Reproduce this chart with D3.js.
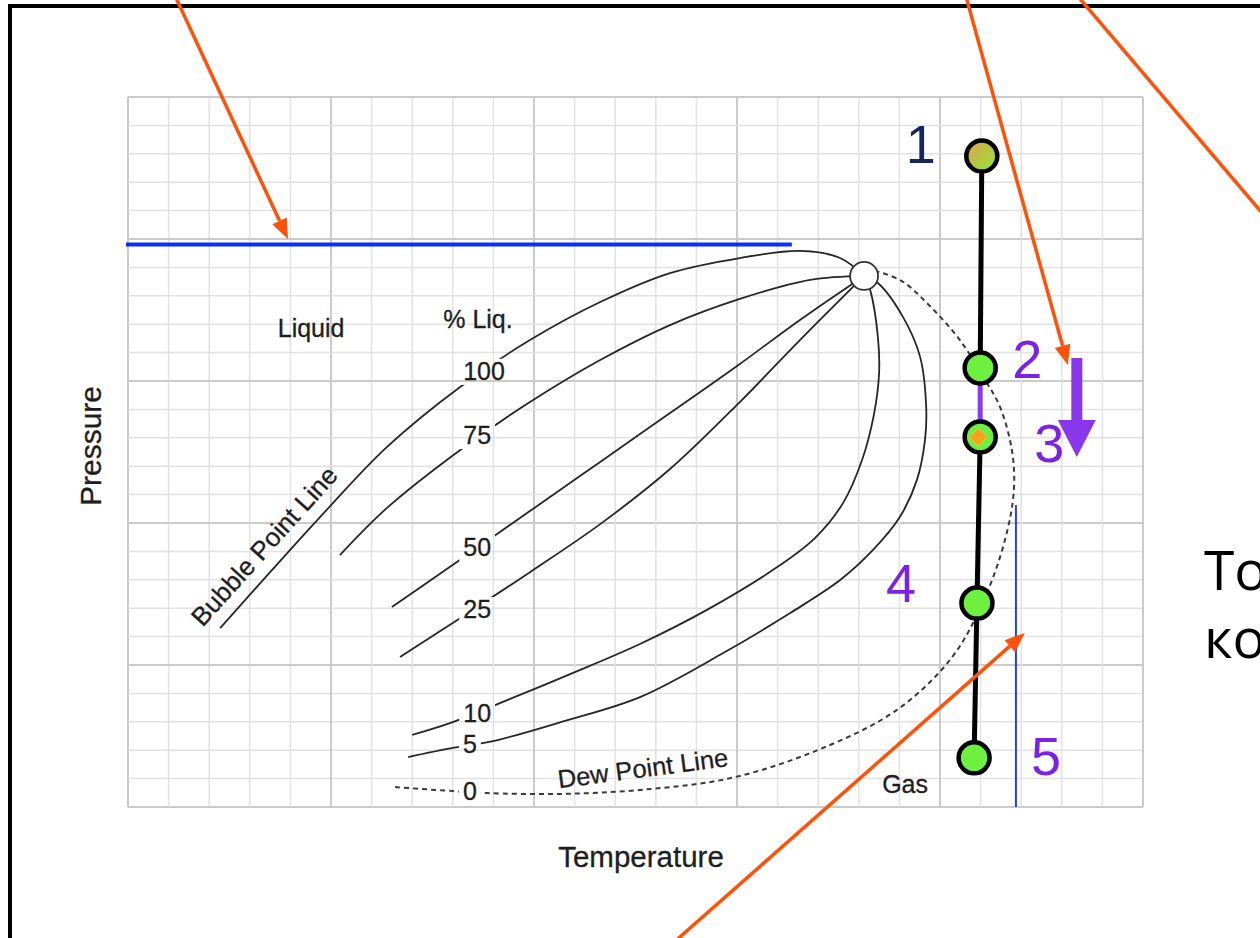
<!doctype html>
<html lang="ru">
<head>
<meta charset="UTF-8">
<title>Phase envelope</title>
<script src="https://d3js.org/d3.v7.min.js"></script>
<style>
body { margin: 0; background-color: #ffffff; overflow: hidden; }
svg { display: block; }
.lbl { font-family: "Liberation Sans", Arial, sans-serif; fill: #1e1e1e; stroke: #1e1e1e; stroke-width: 0.3; }
</style>
</head>
<body>
<div id="plot"></div>
<script>

var width = 1260;
var height = 938;

// grid: 25 x 25 cells, temperature and pressure in cell units
var gridCells = 25;

// % liquid lines, [temperature, pressure] from left end to the critical point
var qualityLabels = ["100", "75", "50", "25", "10", "5"];
var curve100 = [[2.27, 6.30], [3.50, 8.27], [4.73, 10.21], [6.38, 12.68], [8.18, 14.79], [9.90, 16.44],
	[11.63, 17.78], [13.35, 18.80], [15.07, 19.33], [16.55, 19.58], [17.54, 19.33], [18.13, 18.70]];
var curve75 = [[5.22, 8.87], [6.38, 10.53], [8.25, 12.64], [9.90, 14.26], [11.63, 15.74], [13.35, 16.97],
	[15.07, 17.89], [16.80, 18.56], [18.13, 18.70]];
var curve50 = [[6.50, 7.04], [8.10, 8.63], [9.90, 10.42], [11.63, 12.15], [13.35, 13.87], [15.07, 15.60],
	[16.55, 17.15], [18.13, 18.70]];
var curve25 = [[6.70, 5.28], [8.18, 6.65], [9.90, 8.27], [11.63, 9.96], [13.35, 11.90], [15.07, 14.26],
	[16.55, 16.44], [18.13, 18.70]];
var curve10 = [[7.00, 2.54], [8.00, 2.99], [9.16, 3.66], [10.89, 4.68], [12.61, 5.74], [14.26, 6.94],
	[15.89, 8.35], [16.92, 9.47], [17.61, 10.70], [18.08, 12.22], [18.37, 13.80], [18.50, 15.28],
	[18.47, 16.55], [18.28, 18.20], [18.13, 18.70]];
var curve5 = [[6.90, 1.76], [8.00, 2.08], [8.99, 2.32], [10.76, 3.03], [12.61, 3.87], [14.66, 5.42],
	[16.31, 6.83], [17.54, 7.99], [18.35, 9.05], [19.01, 10.21], [19.43, 11.51], [19.63, 12.92],
	[19.66, 14.08], [19.51, 15.85], [19.09, 17.25], [18.47, 18.45], [18.13, 18.70]];
var qualityCurves = [curve100, curve75, curve50, curve25, curve10, curve5];

// 0 % liquid = dew point line
var dewLabel = "0";
var dewCurve = [[6.58, 0.70], [8.00, 0.56], [8.84, 0.49], [10.64, 0.46], [12.61, 0.60], [14.85, 1.02],
	[17.00, 2.01], [18.94, 3.42], [20.30, 5.28], [21.08, 7.29], [21.60, 9.40], [21.82, 11.16],
	[21.77, 12.57], [21.48, 14.08], [21.11, 15.04], [20.49, 16.44], [19.75, 17.64], [19.06, 18.52],
	[18.42, 18.87]];

var criticalPoint = [18.13, 18.70];

// cricondenbar line and cricondentherm line
var cricondenbar = [[-0.05, 19.81], [16.35, 19.81]];
var cricondentherm = [[21.87, 0], [21.87, 10.63]];

// isothermal process 1 -> 5
var processLabels = ["1", "2", "3", "4", "5"];
var processTemp = [21.03, 20.99, 20.99, 20.91, 20.84];
var processPress = [22.92, 15.46, 13.03, 7.18, 1.73];

// annotation arrows [t1, p1, t2, p2]
var arrowsWithHead = [[1.15, 28.59, 3.94, 20.0], [20.63, 28.59, 23.15, 15.56], [13.37, -4.86, 22.09, 6.13]];
var arrowsNoHead = [[23.37, 28.59, 27.93, 20.92]];

var regionLabels = ["Liquid", "% Liq.", "Gas"];
var sideText = ["То", "кол"];

var svg = d3.select("#plot").append("svg")
	.attr("width", width)
	.attr("height", height);

var xScale = d3.scaleLinear().domain([0, gridCells]).range([128, 1143]);
var yScale = d3.scaleLinear().domain([0, gridCells]).range([807, 97]);

var defs = svg.append("defs");
var grad = defs.append("linearGradient").attr("id", "p1fill")
	.attr("x1", "0%").attr("y1", "0%").attr("x2", "100%").attr("y2", "100%");
grad.append("stop").attr("offset", "0%").attr("stop-color", "#e0a04c");
grad.append("stop").attr("offset", "100%").attr("stop-color", "#8ee83a");

var mask = defs.append("mask").attr("id", "gaps")
	.attr("maskUnits", "userSpaceOnUse")
	.attr("x", 0).attr("y", 0).attr("width", width).attr("height", height);
mask.append("rect").attr("width", width).attr("height", height).attr("fill", "white");

// frame
svg.append("rect")
	.attr("x", 10).attr("y", 6)
	.attr("width", width + 40).attr("height", height + 40)
	.attr("fill", "none").attr("stroke", "#000").attr("stroke-width", 4);

// grid
var ticks = d3.range(0, gridCells + 1);
var grid = svg.append("g");
ticks.forEach(function (k) {
	var major = k % 5 == 0;
	grid.append("line")
		.attr("x1", xScale(k)).attr("x2", xScale(k))
		.attr("y1", yScale(0)).attr("y2", yScale(gridCells))
		.attr("stroke", major ? "#cbcbcb" : "#e2e2e2")
		.attr("stroke-width", major ? 2 : 1.5);
	grid.append("line")
		.attr("x1", xScale(0)).attr("x2", xScale(gridCells))
		.attr("y1", yScale(k)).attr("y2", yScale(k))
		.attr("stroke", major ? "#cbcbcb" : "#e2e2e2")
		.attr("stroke-width", major ? 2 : 1.5);
});

var straight = d3.line()
	.x(function (d) { return xScale(d[0]); })
	.y(function (d) { return yScale(d[1]); });

svg.append("path").attr("d", straight(cricondenbar))
	.attr("fill", "none").attr("stroke", "#0a2eff").attr("stroke-width", 4);
svg.append("path").attr("d", straight(cricondentherm))
	.attr("fill", "none").attr("stroke", "#1a40ff").attr("stroke-width", 2);

// phase envelope
var smooth = d3.line()
	.x(function (d) { return xScale(d[0]); })
	.y(function (d) { return yScale(d[1]); })
	.curve(d3.curveCatmullRom.alpha(0.5));

var curves = svg.append("g").attr("mask", "url(#gaps)");
qualityCurves.forEach(function (c) {
	curves.append("path").attr("d", smooth(c))
		.attr("fill", "none").attr("stroke", "#262626").attr("stroke-width", 1.8);
});
curves.append("path").attr("d", smooth(dewCurve))
	.attr("fill", "none").attr("stroke", "#3a3a3a").attr("stroke-width", 2)
	.attr("stroke-dasharray", "5,4");

svg.append("circle")
	.attr("cx", xScale(criticalPoint[0])).attr("cy", yScale(criticalPoint[1]))
	.attr("r", 14).attr("fill", "#fff").attr("stroke", "#333").attr("stroke-width", 1.8);

// % liquid labels, they cut the lines
var qualityPos = [[8.77, 15.04], [8.60, 12.78], [8.60, 8.84], [8.60, 6.65], [8.60, 2.99], [8.42, 1.90], [8.42, 0.25]];
qualityLabels.concat([dewLabel]).forEach(function (s, i) {
	var t = svg.append("text").attr("class", "lbl")
		.attr("x", xScale(qualityPos[i][0])).attr("y", yScale(qualityPos[i][1]))
		.attr("text-anchor", "middle")
		.style("font-size", "25px")
		.text(s);
	var b = t.node().getBBox();
	mask.append("rect")
		.attr("x", b.x - 4).attr("y", b.y + 2)
		.attr("width", b.width + 8).attr("height", b.height - 2)
		.attr("fill", "black");
});

var regionPos = [[4.51, 16.55], [8.62, 16.87], [19.14, 0.49]];
regionLabels.forEach(function (s, i) {
	svg.append("text").attr("class", "lbl")
		.attr("x", xScale(regionPos[i][0])).attr("y", yScale(regionPos[i][1]))
		.attr("text-anchor", "middle")
		.style("font-size", "25px")
		.text(s);
});

svg.append("text").attr("class", "lbl")
	.attr("transform", "translate(" + xScale(3.52) + "," + yScale(8.98) + ") rotate(-48)")
	.attr("text-anchor", "middle")
	.style("font-size", "26px")
	.text("Bubble Point Line");

svg.append("text").attr("class", "lbl")
	.attr("transform", "translate(" + xScale(12.71) + "," + yScale(1.05) + ") rotate(-7.5)")
	.attr("text-anchor", "middle")
	.style("font-size", "25.5px")
	.text("Dew Point Line");

svg.append("text").attr("class", "lbl")
	.attr("x", 641).attr("y", 867)
	.attr("text-anchor", "middle")
	.style("font-size", "29.5px")
	.text("Temperature");

svg.append("text").attr("class", "lbl")
	.attr("transform", "translate(101,446) rotate(-90)")
	.attr("text-anchor", "middle")
	.style("font-size", "30px")
	.text("Pressure");

// process line
var segColors = ["#000", "#8a3cec", "#000", "#000"];
processTemp.forEach(function (t, i) {
	if (i == processTemp.length - 1) return;
	svg.append("line")
		.attr("x1", xScale(t)).attr("y1", yScale(processPress[i]))
		.attr("x2", xScale(processTemp[i + 1])).attr("y2", yScale(processPress[i + 1]))
		.attr("stroke", segColors[i]).attr("stroke-width", 5);
});

var pointFill = ["url(#p1fill)", "#6ef03e", "#6ef03e", "#6ef03e", "#6ef03e"];
processTemp.forEach(function (t, i) {
	svg.append("circle")
		.attr("cx", xScale(t)).attr("cy", yScale(processPress[i]))
		.attr("r", 15.5)
		.attr("fill", pointFill[i]).attr("stroke", "#000").attr("stroke-width", 4.5);
});

// orange diamond inside point 3
var cx3 = xScale(processTemp[2]) - 2, cy3 = yScale(processPress[2]);
svg.append("path")
	.attr("d", "M" + cx3 + "," + (cy3 - 9) + "L" + (cx3 + 9) + "," + cy3 + "L" + cx3 + "," + (cy3 + 9) + "L" + (cx3 - 9) + "," + cy3 + "Z")
	.attr("fill", "#f7a21b").attr("stroke", "#f8c060").attr("stroke-width", 1);

var labelOffsets = [[-61, 7], [47, 10], [69, 25], [-76, -1], [72, 17]];
var labelColors = ["#16265f", "#7b22e6", "#7b22e6", "#7b22e6", "#7b22e6"];
processLabels.forEach(function (s, i) {
	svg.append("text")
		.attr("x", xScale(processTemp[i]) + labelOffsets[i][0])
		.attr("y", yScale(processPress[i]) + labelOffsets[i][1])
		.attr("text-anchor", "middle")
		.style("font-family", "'Liberation Sans', Arial, sans-serif")
		.style("font-size", "54px")
		.style("fill", labelColors[i])
		.text(s);
});

// purple arrow: pressure goes down
var ax = xScale(23.37), ay1 = yScale(15.81), ay2 = yScale(12.32);
svg.append("line")
	.attr("x1", ax).attr("x2", ax).attr("y1", ay1).attr("y2", ay2 - 35)
	.attr("stroke", "#8a36ea").attr("stroke-width", 11);
svg.append("path")
	.attr("d", "M" + (ax - 19) + "," + (ay2 - 37) + "L" + (ax + 19) + "," + (ay2 - 37) + "L" + ax + "," + ay2 + "Z")
	.attr("fill", "#8a36ea");

// orange annotation arrows
function arrow(a, head) {
	var x1 = xScale(a[0]), y1 = yScale(a[1]), x2 = xScale(a[2]), y2 = yScale(a[3]);
	var len = Math.sqrt((x2 - x1) * (x2 - x1) + (y2 - y1) * (y2 - y1));
	var ux = (x2 - x1) / len, uy = (y2 - y1) / len;
	var hl = head ? 20 : 0, hw = 8;
	svg.append("line")
		.attr("x1", x1).attr("y1", y1)
		.attr("x2", x2 - ux * hl).attr("y2", y2 - uy * hl)
		.attr("stroke", "#ff5208").attr("stroke-width", 3.5);
	if (head) {
		var bx = x2 - ux * hl, by = y2 - uy * hl;
		svg.append("path")
			.attr("d", "M" + x2 + "," + y2 + "L" + (bx - uy * hw) + "," + (by + ux * hw) +
				"L" + (bx + uy * hw) + "," + (by - ux * hw) + "Z")
			.attr("fill", "#ff5208");
	}
}
arrowsWithHead.forEach(function (a) { arrow(a, true); });
arrowsNoHead.forEach(function (a) { arrow(a, false); });

// text cut off at the right edge, as in the slide
sideText.forEach(function (s, i) {
	svg.append("text")
		.attr("x", 1204).attr("y", i == 0 ? 590 : 658)
		.style("font-family", "'Open Sans', 'Liberation Sans', sans-serif")
		.style("font-size", "55px")
		.style("fill", "#000")
		.text(s);
});

</script>
</body>
</html>
